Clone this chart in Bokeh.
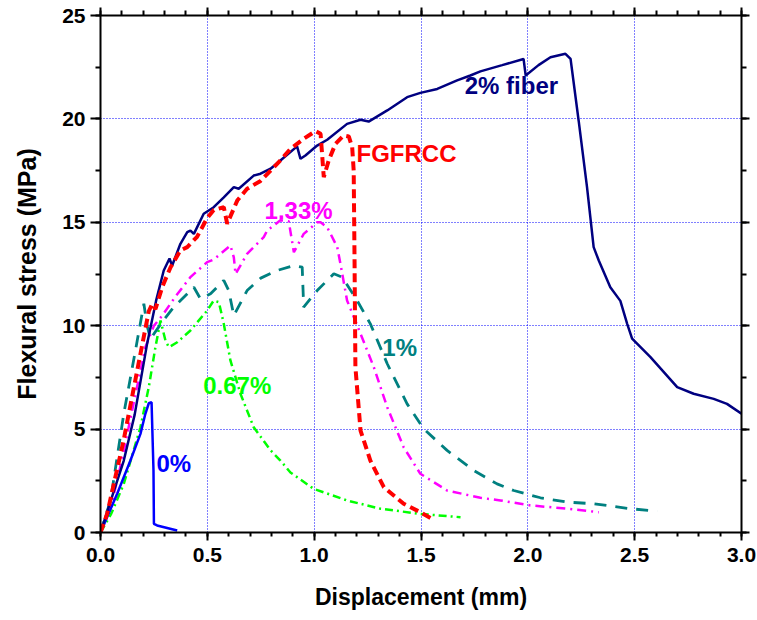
from bokeh.plotting import figure
from bokeh.models import (LinearAxis, Label, SingleIntervalTicker, CustomJSTickFormatter,
                          NumeralTickFormatter, Range1d)
from bokeh.embed import file_html
from bokeh.resources import INLINE

# ---------------- data ----------------
fiber2_x = [0, 0.05, 0.109, 0.16, 0.218, 0.26, 0.296, 0.323, 0.335, 0.374, 0.406, 0.421, 0.437,
            0.483, 0.53, 0.577, 0.624, 0.647, 0.717, 0.749, 0.796, 0.842, 0.92, 0.936, 0.959,
            1.014, 1.061, 1.154, 1.217, 1.255, 1.342, 1.435, 1.497, 1.576, 1.669, 1.731, 1.778,
            1.88, 1.98, 1.99, 2.05, 2.106, 2.176, 2.2, 2.238, 2.277, 2.308, 2.332, 2.386, 2.433,
            2.465, 2.488, 2.574, 2.699, 2.776, 2.87, 2.932, 3.0]
fiber2_y = [0, 1.6, 3.48, 5.7, 9.12, 11.2, 12.67, 13.25, 12.9, 13.96, 14.52, 14.6, 14.44,
            15.41, 15.73, 16.21, 16.7, 16.62, 17.26, 17.35, 17.59, 17.99, 18.67, 18.07, 18.23,
            18.71, 18.99, 19.76, 19.96, 19.87, 20.41, 21.05, 21.26, 21.45, 21.86, 22.1, 22.3,
            22.6, 22.9, 22.1, 22.6, 22.98, 23.15, 22.9, 19.9, 16.7, 13.8, 13.15, 11.86, 11.2,
            10.09, 9.37, 8.48, 7.03, 6.71, 6.46, 6.22, 5.74]

fgfrcc_x = [0, 0.031, 0.108, 0.187, 0.226, 0.242, 0.257, 0.29, 0.328, 0.374, 0.406, 0.452, 0.499,
            0.53, 0.577, 0.593, 0.64, 0.686, 0.749, 0.796, 0.842, 0.889, 0.951, 1.006, 1.03,
            1.037, 1.045, 1.068, 1.1, 1.138, 1.162, 1.178, 1.185, 1.189, 1.193, 1.217, 1.263,
            1.326, 1.419, 1.497, 1.552]
fgfrcc_y = [0, 0.9, 4.45, 8.64, 10.7, 11.06, 10.8, 11.9, 12.83, 13.64, 13.8, 14.3, 15.2,
            15.6, 15.73, 14.93, 16.05, 16.62, 17.0, 17.5, 18.0, 18.55, 19.04, 19.41, 19.28,
            18.31, 17.18, 17.99, 18.8, 19.2, 19.15, 18.63, 17.5, 13.15, 8.0, 4.93, 3.48,
            2.19, 1.39, 0.98, 0.66]

p133_x = [0, 0.05, 0.1, 0.15, 0.21, 0.25, 0.289, 0.35, 0.421, 0.499, 0.53, 0.608, 0.624, 0.632,
          0.686, 0.702, 0.764, 0.78, 0.842, 0.881, 0.905, 0.951, 1.014, 1.03, 1.061, 1.108,
          1.123, 1.154, 1.217, 1.279, 1.342, 1.419, 1.497, 1.622, 1.778, 1.872, 2.012, 2.184, 2.332]
p133_y = [0, 1.3, 3.5, 6.0, 8.96, 10.0, 10.49, 11.4, 12.35, 13.07, 13.2, 13.88, 13.3, 12.5,
          13.47, 13.64, 14.28, 14.6, 15.1, 15.05, 13.55, 14.44, 15.0, 15.0, 14.76, 13.8,
          12.99, 11.22, 9.61, 8.0, 6.06, 4.12, 2.84, 2.03, 1.68, 1.55, 1.31, 1.15, 0.98]

p1_x = [0, 0.047, 0.109, 0.172, 0.203, 0.218, 0.234, 0.29, 0.343, 0.437, 0.468, 0.515, 0.577,
        0.6, 0.624, 0.686, 0.75, 0.827, 0.905, 0.944, 0.951, 1.014, 1.092, 1.131, 1.201, 1.263,
        1.342, 1.435, 1.513, 1.622, 1.747, 1.856, 1.934, 2.059, 2.184, 2.308, 2.48, 2.605]
p1_y = [0, 1.55, 5.74, 9.28, 11.06, 10.0, 9.37, 10.2, 10.9, 11.86, 11.3, 11.54, 12.19,
        11.7, 10.49, 11.7, 12.3, 12.67, 12.91, 12.83, 10.9, 11.7, 12.51, 12.35, 11.22, 10.09,
        8.16, 6.22, 5.01, 3.97, 3.0, 2.35, 2.03, 1.68, 1.47, 1.39, 1.15, 1.03]

p067_x = [0, 0.05, 0.109, 0.187, 0.226, 0.257, 0.281, 0.304, 0.32, 0.359, 0.421, 0.499, 0.53,
          0.554, 0.577, 0.608, 0.655, 0.717, 0.796, 0.842, 0.889, 0.998, 1.154, 1.31, 1.497, 1.685]
p067_y = [0, 0.9, 2.35, 5.09, 7.03, 8.96, 10.25, 9.28, 8.96, 9.2, 9.77, 10.73, 11.22,
          11.14, 10.09, 8.32, 6.71, 5.09, 3.97, 3.48, 2.9, 2.11, 1.55, 1.15, 0.9, 0.74]

p0_x = [0, 0.078, 0.14, 0.187, 0.21, 0.226, 0.239, 0.248, 0.25, 0.265, 0.359]
p0_y = [0, 1.87, 3.48, 4.77, 5.74, 6.25, 6.3, 3.0, 0.42, 0.34, 0.1]

label_texts = ["2% fiber", "FGFRCC", "1.33%", "1%", "0.67%", "0%"]

# ---------------- figure ----------------
FONT = "Liberation Sans"
p = figure(x_range=Range1d(0, 3), y_range=Range1d(0, 25),
           frame_width=641, frame_height=517,
           min_border_left=100, min_border_right=16, min_border_top=15, min_border_bottom=88,
           output_backend="svg", toolbar_location=None,
           background_fill_color="white", border_fill_color="white")
p.outline_line_color = None

xt = SingleIntervalTicker(interval=0.5, num_minor_ticks=5)
yt = SingleIntervalTicker(interval=5, num_minor_ticks=2)

def style_axis(ax, tick_out, minor_out):
    ax.axis_line_width = 2
    ax.axis_line_color = "black"
    ax.major_tick_line_width = 2
    ax.minor_tick_line_width = 2
    ax.major_tick_in = 0
    ax.minor_tick_in = 0
    ax.major_tick_out = tick_out
    ax.minor_tick_out = minor_out

xa = p.xaxis[0]
xa.ticker = xt
xa.formatter = NumeralTickFormatter(format="0.0")
style_axis(xa, 8, 4)
xa.major_label_text_font = FONT
xa.major_label_text_font_style = "bold"
xa.major_label_text_font_size = "21px"
xa.major_label_text_color = "black"
xa.major_label_standoff = 7
xa.axis_label = "Displacement (mm)"
xa.axis_label_text_font = FONT
xa.axis_label_text_font_style = "bold"
xa.axis_label_text_font_size = "23px"
xa.axis_label_text_color = "black"
xa.axis_label_standoff = 19

ya = p.yaxis[0]
ya.ticker = yt
style_axis(ya, 10, 5)
ya.major_label_text_font = FONT
ya.major_label_text_font_style = "bold"
ya.major_label_text_font_size = "21px"
ya.major_label_text_color = "black"
ya.major_label_standoff = 5
ya.axis_label = "Flexural stress (MPa)"
ya.axis_label_text_font = FONT
ya.axis_label_text_font_style = "bold"
ya.axis_label_text_font_size = "25px"
ya.axis_label_text_color = "black"
ya.axis_label_standoff = 18

blank = CustomJSTickFormatter(code="return ''")
top = LinearAxis(ticker=xt, formatter=blank, major_label_text_font_size="1px", major_label_standoff=0)
style_axis(top, 8, 5)
p.add_layout(top, "above")
right = LinearAxis(ticker=yt, formatter=blank, major_label_text_font_size="1px", major_label_standoff=0)
style_axis(right, 8, 5)
p.add_layout(right, "right")

for g in (p.xgrid[0], p.ygrid[0]):
    g.grid_line_color = "#0000FF"
    g.grid_line_dash = "1 2"
    g.grid_line_width = 1
p.xgrid[0].ticker = xt
p.ygrid[0].ticker = yt

# ---------------- curves ----------------
p.line(p067_x, p067_y, line_color="#00FF00", line_width=2.5, line_dash="8 4 2 4")
p.line(p1_x, p1_y, line_color="#008080", line_width=2.8, line_dash="12 9")
p.line(p133_x, p133_y, line_color="#FF00FF", line_width=2.5, line_dash="9 5 2 5")
p.line(p0_x, p0_y, line_color="#0000FF", line_width=2.5)
p.line(fiber2_x, fiber2_y, line_color="#000080", line_width=2.5)
p.line(fgfrcc_x, fgfrcc_y, line_color="#FF0000", line_width=4, line_dash="9 5")

label_pos = [(1.923, 21.6), (1.432, 18.33), (0.927, 15.57), (1.40, 8.96), (0.64, 7.11), (0.343, 3.32)]
label_colors = ["#000080", "#FF0000", "#FF00FF", "#008080", "#00FF00", "#0000FF"]
for t, (lx, ly), c in zip(label_texts, label_pos, label_colors):
    p.add_layout(Label(x=lx, y=ly, text=t, text_color=c, text_font=FONT, text_font_style="bold",
                       text_font_size="24px", text_align="center", text_baseline="middle"))

open("out.html", "w").write(file_html(p, INLINE))
